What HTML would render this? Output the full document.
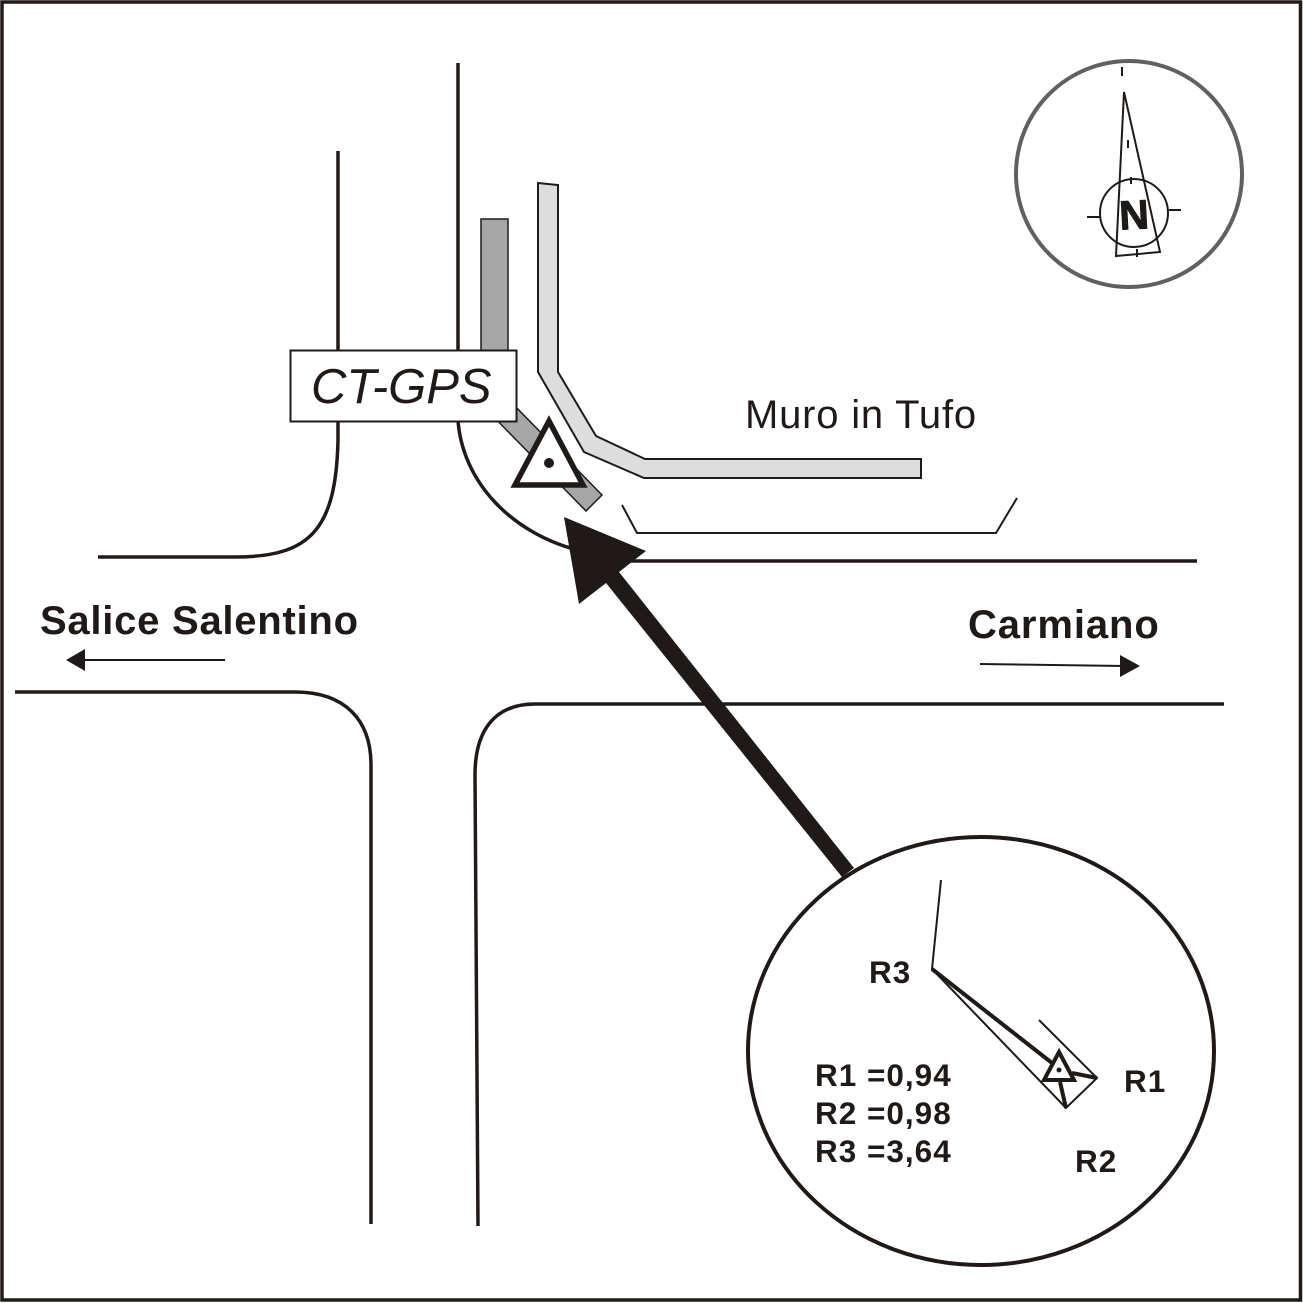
<!DOCTYPE html>
<html><head><meta charset="utf-8"><style>html,body{margin:0;padding:0;background:#fff}svg{display:block}text{font-family:"Liberation Sans",sans-serif;fill:#1f1a17}</style></head>
<body>
<svg width="1303" height="1303" viewBox="0 0 1303 1303" xmlns="http://www.w3.org/2000/svg">
<rect x="2" y="2" width="1298.500" height="1298" fill="#fff" stroke="#1f1a17" stroke-width="3.500"/>
<g fill="none" stroke="#1f1a17" stroke-width="3.500">
<path d="M338 151V440C336 530 310 557 235 557H98"/>
<path d="M458 63V420C462 480 510 535 585 552"/>
<path d="M630 561H1197"/>
<path d="M15 692H295C345 692 371 720 371 765V1224"/>
<path d="M1224 704H535C495 704 475 730 475 775L478 1226"/>
<path d="M622 505L637 533H996L1017 498" stroke-width="2"/>
</g>
<polygon points="481,219 508,219 508,399 602,495 586,511 481,404" fill="#a6a6a6" stroke="#1f1a17" stroke-width="1.500"/>
<polygon points="538,183 558,185 558,372 596,436 645,459 921,459 921,478 644,478 584,452 538,372" fill="#dcdddc" stroke="#1f1a17" stroke-width="2"/>
<rect x="290.500" y="350.500" width="226" height="71" fill="#fff" stroke="#1f1a17" stroke-width="2"/>
<text x="311" y="403" font-size="49" font-style="italic">CT-GPS</text>
<polygon points="549,421 583,485 515,485" fill="#fff" stroke="#1f1a17" stroke-width="5.500"/>
<circle cx="549" cy="463" r="5" fill="#1f1a17"/>
<text x="745" y="428" font-size="40" letter-spacing="0.800">Muro in Tufo</text>
<polygon points="564,517 646,551 619,572 854,868 842,877 606,583 579,604" fill="#1f1a17"/>
<text x="40" y="634" font-size="40" font-weight="bold" letter-spacing="0.750">Salice Salentino</text>
<path d="M225 660H80" stroke="#1f1a17" stroke-width="2"/>
<polygon points="66,660 85,649 85,671" fill="#1f1a17"/>
<text x="968" y="638" font-size="40" font-weight="bold" letter-spacing="0.900">Carmiano</text>
<path d="M980 664L1125 666" stroke="#1f1a17" stroke-width="2"/>
<polygon points="1140,666 1120,655 1120,677" fill="#1f1a17"/>
<circle cx="1129" cy="174" r="113" fill="#fff" stroke="#606060" stroke-width="4"/>
<g fill="none" stroke="#1f1a17" stroke-width="2">
<polygon points="1124,92 1160,252 1116,256"/>
<circle cx="1134" cy="213" r="34"/>
<path d="M1122 67V76M1128 140V148M1131 177V184M1137 249V257M1087 217H1100M1169 210H1181"/>
</g>
<text x="1134" y="229" font-size="41" font-weight="bold" text-anchor="middle" transform="rotate(-3 1134 213)" stroke="#1f1a17" stroke-width="1">N</text>
<ellipse cx="981" cy="1051" rx="233" ry="214" fill="#fff" stroke="#1f1a17" stroke-width="4"/>
<g fill="none" stroke="#1f1a17" stroke-width="2">
<path d="M941 880L932 969L1066 1108L1097 1078L1039 1020"/>
</g>
<g fill="none" stroke="#1f1a17" stroke-width="4">
<path d="M932 969L1052 1063M1072 1073L1097 1078M1060 1082L1066 1108"/>
</g>
<polygon points="1059,1052 1074,1080 1044,1080" fill="#fff" stroke="#1f1a17" stroke-width="4"/>
<circle cx="1059" cy="1070" r="2.500" fill="#1f1a17"/>
<g font-size="31.500" font-weight="bold">
<text x="869" y="983" letter-spacing="1">R3</text>
<text x="1124" y="1092" letter-spacing="1">R1</text>
<text x="1075" y="1172" letter-spacing="1">R2</text>
<text x="815" y="1086" letter-spacing="1">R1 =0,94</text>
<text x="815" y="1124" letter-spacing="1">R2 =0,98</text>
<text x="815" y="1162" letter-spacing="1">R3 =3,64</text>
</g>
</svg>
</body></html>
